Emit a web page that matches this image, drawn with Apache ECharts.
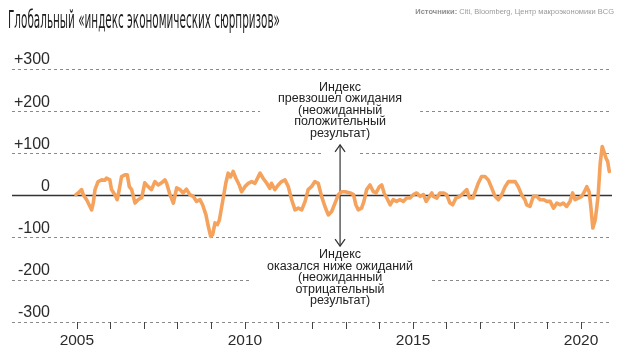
<!DOCTYPE html>
<html><head><meta charset="utf-8">
<script src="https://cdn.jsdelivr.net/npm/echarts@6/dist/echarts.min.js"></script>
<style>html,body{margin:0;padding:0;background:#fff}#c{width:624px;height:363px}</style>
</head><body><div id="c"></div>
<script>
const titleText = 'Глобальный «индекс экономических сюрпризов»';
const sourceBold = 'Источники:';
const sourceRest = ' Citi, Bloomberg, Центр макроэкономики BCG';
const upperNote = ['Индекс', 'превзошел ожидания', '(неожиданный', 'положительный', 'результат)'];
const lowerNote = ['Индекс', 'оказался ниже ожиданий', '(неожиданный', 'отрицательный', 'результат)'];
const yTicks = [-300, -200, -100, 0, 100, 200, 300];
const xTickYears = [2005,2006,2007,2008,2009,2010,2011,2012,2013,2014,2015,2016,2017,2018,2019,2020];
const xLabelYears = [2005, 2010, 2015, 2020];

const years = [2004.97,2005.04,2005.14,2005.19,2005.29,2005.39,2005.44,2005.49,2005.54,2005.63,2005.74,2005.83,2005.88,2005.98,
2006.03,2006.13,2006.20,2006.26,2006.33,2006.43,2006.50,2006.56,2006.63,2006.73,2006.82,2006.93,
2007.02,2007.12,2007.22,2007.32,2007.42,2007.52,2007.62,2007.67,2007.77,2007.87,2007.97,
2008.07,2008.16,2008.26,2008.36,2008.46,2008.56,2008.66,2008.74,2008.84,2008.91,2008.98,
2009.04,2009.11,2009.18,2009.24,2009.31,2009.38,2009.43,2009.50,2009.57,2009.65,2009.73,2009.83,2009.90,
2010.00,2010.10,2010.20,2010.30,2010.45,2010.54,2010.65,2010.74,2010.79,2010.89,2010.99,
2011.09,2011.19,2011.29,2011.39,2011.49,2011.59,2011.69,2011.79,2011.88,2011.98,
2012.08,2012.18,2012.28,2012.38,2012.48,2012.58,2012.68,2012.78,2012.88,2012.98,
2013.13,2013.23,2013.30,2013.37,2013.47,2013.54,2013.62,2013.72,2013.82,2013.90,
2014.00,2014.07,2014.14,2014.22,2014.32,2014.41,2014.51,2014.61,2014.71,2014.81,2014.91,
2015.01,2015.11,2015.21,2015.31,2015.39,2015.46,2015.56,2015.60,2015.71,2015.80,2015.90,
2016.00,2016.10,2016.18,2016.28,2016.40,2016.50,2016.60,2016.68,2016.78,2016.85,2016.94,
2017.04,2017.14,2017.24,2017.34,2017.44,2017.54,2017.64,2017.74,2017.84,2017.94,
2018.04,2018.13,2018.23,2018.33,2018.38,2018.48,2018.58,2018.68,2018.78,2018.88,2018.98,
2019.08,2019.18,2019.28,2019.38,2019.47,2019.57,2019.67,2019.75,2019.82,2019.92,
2020.02,2020.10,2020.17,2020.24,2020.29,2020.35,2020.42,2020.47,2020.51,2020.57,2020.63,2020.68,2020.74,2020.79,2020.84];
const values = [2,6,14,2,-10,-26,-34,-17,14,33,37,36,41,37,
14,2,-10,14,45,49,49,21,14,-18,-10,-5,
30,21,14,33,25,30,37,29,2,-18,18,
14,6,15,2,-2,-14,-10,-22,-46,-73,-97,
-93,-65,-69,-58,-26,6,29,53,44,57,41,25,9,
21,29,33,29,53,41,29,17,29,14,25,
33,37,21,-10,-34,-30,-34,-14,14,21,
33,29,-2,-26,-46,-38,-18,2,9,9,
6,2,-22,-34,-30,-14,14,25,9,6,
21,25,6,-6,-22,-10,-14,-10,-14,-6,-6,
2,6,-2,2,-14,-6,6,-2,-6,6,6,
2,-18,-22,-6,-2,6,14,-6,-6,9,29,
45,45,37,18,-2,-10,2,21,33,33,
33,21,2,-10,-22,-26,-2,-2,-10,-10,-14,
-14,-30,-18,-22,-18,-26,-14,6,-10,-6,
-2,9,21,9,-26,-77,-58,-26,2,77,116,104,89,81,57];

const xMin = 2003.07, xMax = 2020.92;
const noteYear = 2012.83;

(function () {
const chart = echarts.init(document.getElementById('c'), null, {renderer: 'canvas'});
const FONT = '"Liberation Sans", Arial, sans-serif';

function measure(text, font) {
  const ctx = document.createElement('canvas').getContext('2d');
  ctx.font = font;
  return ctx.measureText(text).width;
}

chart.setOption({
  animation: false,
  grid: {left: 12, right: 12, top: 69, bottom: 41},
  xAxis: {
    type: 'value', min: xMin, max: xMax,
    axisLine: {show: false, onZero: false},
    splitLine: {show: false},
    axisTick: {show: true, length: 7, lineStyle: {color: '#444', width: 1}, customValues: xTickYears},
    axisLabel: {customValues: xLabelYears, margin: 11, fontSize: 15.5, color: '#2b2b2b', fontFamily: FONT, formatter: v => String(Math.round(v))}
  },
  yAxis: {
    type: 'value', min: -300, max: 300, interval: 100,
    axisLine: {show: false}, axisTick: {show: false},
    splitLine: {show: true, lineStyle: {color: '#8a8a8a', type: [3, 3], width: 1}},
    axisLabel: {
      inside: true, align: 'right', margin: 38, verticalAlign: 'bottom', lineHeight: 16,
      padding: [0, 0, 1, 0],
      fontSize: 16, color: '#2b2b2b', fontFamily: FONT,
      formatter: v => v > 0 ? '+' + v : String(v)
    }
  },
  series: [
    {type: 'line', z: 1, silent: true, symbol: 'none', data: [[xMin, 0], [xMax, 0]],
     lineStyle: {color: '#333', width: 1.3}},
    {type: 'line', z: 3, symbol: 'none', data: years.map((y, i) => [y, values[i]]),
     lineStyle: {color: '#F5A25D', width: 3.6, cap: 'round', join: 'round'}}
  ]
});

const p = (x, y) => chart.convertToPixel({gridIndex: 0}, [x, y]);
const pTop = p(noteYear, 120), pBot = p(noteYear, -120);
const ax = pTop[0];
const titleFont = '24px "Liberation Sans Narrow", "DejaVu Sans Condensed", sans-serif';
const tW = measure(titleText, titleFont);
const titleScale = 272 / tW;
const noteFont = '12.5px ' + FONT;
const g = [];
g.push({type: 'text', x: 8, y: 10, z: 10, scaleX: titleScale, originX: 0,
  style: {text: titleText, font: titleFont, fill: '#1e1e1e'}});
g.push({type: 'text', right: 10, top: 8, z: 10,
  style: {text: '{b|' + sourceBold + '}{n|' + sourceRest + '}', rich: {
    b: {fontWeight: 'bold', fontSize: 7.5, fontFamily: FONT, fill: '#8d8d8d'},
    n: {fontSize: 7.5, fontFamily: FONT, fill: '#9a9a9a'}}}});
const mask = 18;
g.push({type: 'rect', z: 1, shape: {x: ax - mask, y: p(0,100)[1] - 4, width: mask * 2, height: 8}, style: {fill: '#fff'}});
g.push({type: 'rect', z: 1, shape: {x: ax - mask, y: p(0,-100)[1] - 4, width: mask * 2, height: 8}, style: {fill: '#fff'}});
g.push({type: 'line', z: 2, shape: {x1: ax, y1: pTop[1], x2: ax, y2: pBot[1]}, style: {stroke: '#333', lineWidth: 1.2}});
g.push({type: 'polyline', z: 2, shape: {points: [[ax - 5, pTop[1] + 7], [ax, pTop[1]], [ax + 5, pTop[1] + 7]]}, style: {stroke: '#333', lineWidth: 1.2, fill: null}});
g.push({type: 'polyline', z: 2, shape: {points: [[ax - 5, pBot[1] - 7], [ax, pBot[1]], [ax + 5, pBot[1] - 7]]}, style: {stroke: '#333', lineWidth: 1.2, fill: null}});
g.push({type: 'text', z: 2, x: ax, y: pTop[1] - 4,
  style: {text: upperNote.join('\n'), font: noteFont, fill: '#222', align: 'center', verticalAlign: 'bottom',
    lineHeight: 11.5, backgroundColor: '#fff', padding: [2, 18, 2, 18]}});
g.push({type: 'text', z: 2, x: ax, y: pBot[1] + 1,
  style: {text: lowerNote.join('\n'), font: noteFont, fill: '#222', align: 'center', verticalAlign: 'top',
    lineHeight: 11.5, backgroundColor: '#fff', padding: [2, 18, 2, 18]}});
chart.setOption({graphic: g});
})();
</script></body></html>
